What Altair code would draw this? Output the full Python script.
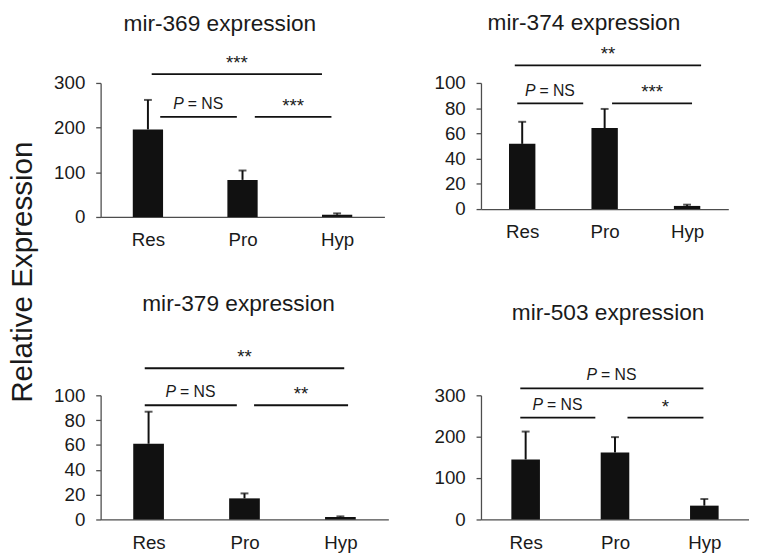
import altair as alt
import pandas as pd

FONT = "Liberation Sans"
INK = "#1a1a1a"
AXIS = "#4d4d4d"

groups = ["Res", "Pro", "Hyp"]
group_pos = [0, 1, 2]

titles = ["mir-369 expression", "mir-374 expression", "mir-379 expression", "mir-503 expression"]

# bar means and upper error-bar ends
mean_369 = [196, 83, 5]
err_369 = [262, 104, 8]
mean_374 = [51.7, 64.2, 2.5]
err_374 = [69.2, 79.4, 3.5]
mean_379 = [61, 17, 2]
err_379 = [86.8, 21, 2.5]
mean_503 = [145, 162, 33.4]
err_503 = [212.4, 199, 49.4]

# significance brackets: start/end (in group units), level (data units), label
br_369_start = [0.04, 0.13, 1.13]
br_369_end = [1.84, 0.94, 1.94]
br_369_level = [320, 224, 224]
br_369_label = ["***", "NS", "***"]

br_374_start = [-0.09, -0.06, 1.09]
br_374_end = [2.17, 0.74, 2.06]
br_374_level = [114, 83.8, 83.8]
br_374_label = ["**", "NS", "***"]

br_379_start = [-0.04, -0.04, 1.10]
br_379_end = [2.04, 0.92, 2.08]
br_379_level = [121.8, 92, 92]
br_379_label = ["**", "NS", "**"]

br_503_start = [-0.06, -0.06, 1.14]
br_503_end = [1.99, 0.78, 1.99]
br_503_level = [317, 246, 246]
br_503_label = ["NS", "NS", "*"]

y_max = [300, 100, 100, 300]
y_ticks = [[0, 100, 200, 300], [0, 20, 40, 60, 80, 100], [0, 20, 40, 60, 80, 100], [0, 100, 200, 300]]

BAR_HALF = 0.16


def panel(title, means, errs, b_start, b_end, b_level, b_label, ymax, yticks,
          width, height, title_dx, title_offset):
    bars = pd.DataFrame({"group": groups, "pos": group_pos, "mean": means, "err": errs})
    br = pd.DataFrame({"x1": b_start, "x2": b_end, "level": b_level, "label": b_label})

    xscale = alt.Scale(domain=[-0.5, 2.5], nice=False, zero=False)
    yscale = alt.Scale(domain=[0, ymax], nice=False)
    xaxis = alt.Axis(values=group_pos, tickCount=len(group_pos),
                     labelExpr="['Res','Pro','Hyp'][datum.value]",
                     ticks=False, grid=False, title=None, domainColor=AXIS,
                     domainWidth=1.3, labelFont=FONT, labelFontSize=19,
                     labelColor=INK, labelPadding=14, labelOverlap=False)
    yaxis = alt.Axis(values=yticks, tickCount=len(yticks), grid=False, title=None,
                     domainColor=AXIS, domainWidth=1.3, tickColor=AXIS, tickWidth=1.3,
                     tickSize=5, labelFont=FONT, labelFontSize=19, labelColor=INK,
                     labelPadding=11, labelOverlap=False, labelFlush=False)

    base = alt.Chart(bars)
    bar = base.mark_bar(color="#111111").transform_calculate(
        lo=f"datum.pos - {BAR_HALF}", hi=f"datum.pos + {BAR_HALF}"
    ).encode(
        x=alt.X("lo:Q", scale=xscale, axis=xaxis),
        x2="hi:Q",
        y=alt.Y("mean:Q", scale=yscale, axis=yaxis),
        y2=alt.datum(0),
    )
    err = base.mark_rule(color="#111111", strokeWidth=2).encode(
        x="pos:Q", y="mean:Q", y2="err:Q")
    cap = base.mark_tick(color="#111111", orient="horizontal", size=8, thickness=2).encode(
        x="pos:Q", y="err:Q")

    bb = alt.Chart(br).transform_calculate(mid="(datum.x1 + datum.x2) / 2")
    rules = bb.mark_rule(color="#111111", strokeWidth=1.8).encode(
        x="x1:Q", x2="x2:Q", y="level:Q")
    stars = bb.transform_filter("datum.label != 'NS'").mark_text(
        font=FONT, fontSize=19, color=INK, baseline="alphabetic", dy=-5, align="center"
    ).encode(x="mid:Q", y="level:Q", text="label:N")
    p_it = bb.transform_filter("datum.label == 'NS'").mark_text(
        font=FONT, fontSize=16, fontStyle="italic", color=INK, baseline="alphabetic",
        dy=-8, dx=-15, align="right", text="P"
    ).encode(x="mid:Q", y="level:Q")
    ns = bb.transform_filter("datum.label == 'NS'").mark_text(
        font=FONT, fontSize=16, color=INK, baseline="alphabetic",
        dy=-8, dx=-11, align="left", text="= NS"
    ).encode(x="mid:Q", y="level:Q")

    return alt.layer(bar, err, cap, rules, stars, p_it, ns).properties(
        width=width, height=height,
        title=alt.TitleParams(title, frame="group", dx=title_dx, offset=title_offset,
                              fontSize=23, font=FONT, fontWeight="normal", color=INK,
                              anchor="middle"),
    )


p1 = panel(titles[0], mean_369, err_369, br_369_start, br_369_end, br_369_level, br_369_label,
           y_max[0], y_ticks[0], 288, 136, -23, 19)
p2 = panel(titles[1], mean_374, err_374, br_374_start, br_374_end, br_374_level, br_374_label,
           y_max[1], y_ticks[1], 251, 128, -21, 11)
p3 = panel(titles[2], mean_379, err_379, br_379_start, br_379_end, br_379_level, br_379_label,
           y_max[2], y_ticks[2], 292, 126, -6, 33)
p4 = panel(titles[3], mean_503, err_503, br_503_start, br_503_end, br_503_level, br_503_label,
           y_max[3], y_ticks[3], 272, 126, -7, 43)

chart = alt.concat(
    p1, p2, p3, p4, columns=2,
    spacing={"row": 181, "column": 94},
    bounds="flush",
    align={"row": "all", "column": "none"},
    title=alt.TitleParams("Relative Expression", orient="left", anchor="middle",
                          fontSize=30, font=FONT, fontWeight="normal", color=INK,
                          offset=16, dx=10),
).properties(
    padding={"left": 0, "top": 0, "right": 0, "bottom": 0}
).configure_view(stroke=None)

chart.save("out.html", embed_options={"renderer": "svg", "actions": False})
